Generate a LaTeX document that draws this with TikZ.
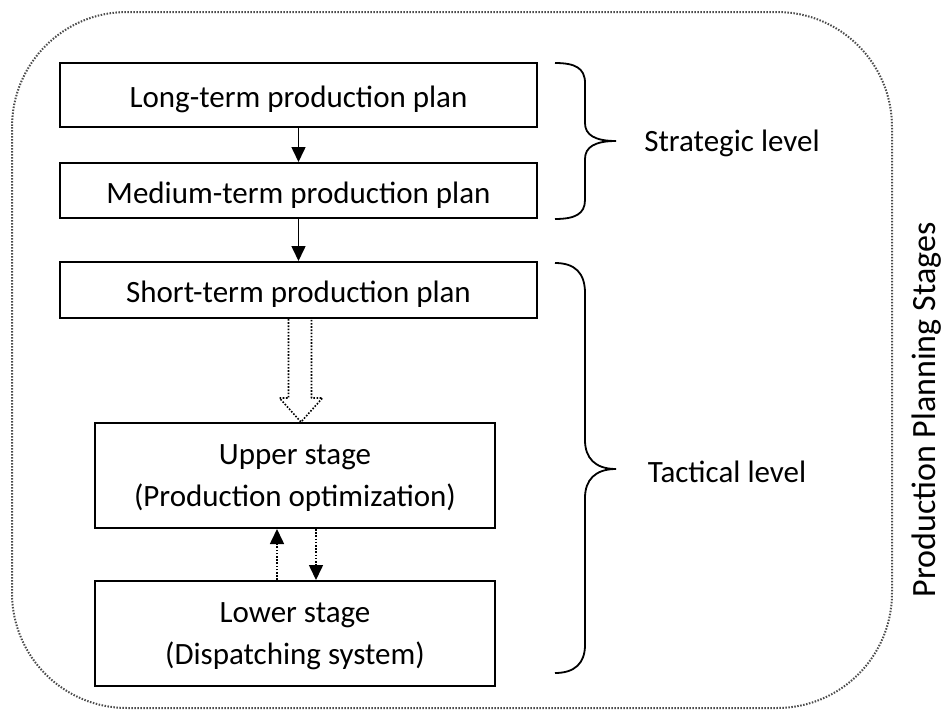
\documentclass[tikz,border=0pt]{standalone}
\usepackage{fontspec}
\setmainfont{Carlito}
\usetikzlibrary{arrows.meta,calc}
\begin{document}
\begin{tikzpicture}[x=1pt,y=-1pt,
  box/.style={draw=black,line width=2pt,inner sep=0pt,align=center,font=\fontsize{31}{42}\selectfont},
  onebox/.style={box,text height=30pt},
  twobox/.style={box,text depth=0pt},
  lbl/.style={inner sep=0pt,font=\fontsize{31}{36}\selectfont},
  solidarr/.style={line width=1.6pt,-{Triangle[length=15pt,width=14pt]}},
  dotarr/.style={line width=1.6pt,dash pattern=on 1.6pt off 1.6pt,-{Triangle[length=15pt,width=14pt]}},
  brace/.style={line width=1.8pt},
  outer/.style={line width=2pt,draw=black!70,dash pattern=on 1.5pt off 1.5pt}]
\useasboundingbox (0,0) rectangle (943,715);
\draw[outer,rounded corners=115pt] (12,12) rectangle (892,708);

\node[onebox,minimum width=477pt,minimum height=64pt] (b1) at (298.5,95) {Long-term production plan};
\node[onebox,minimum width=477pt,minimum height=55pt] (b2) at (298.5,190.5) {Medium-term production plan};
\node[onebox,minimum width=477pt,minimum height=56pt] (b3) at (298.5,290) {Short-term production plan};
\node[twobox,minimum width=400pt,minimum height=105pt] (b4) at (295,475.5) {Upper stage\\(Production optimization)};
\node[twobox,minimum width=400pt,minimum height=105pt] (b5) at (295,633.5) {Lower stage\\(Dispatching system)};

\draw[solidarr] (b1.south) -- (b2.north);
\draw[solidarr] (b2.south) -- (b3.north);

% hollow dotted arrow
\draw[line width=1.6pt,dash pattern=on 1.6pt off 1.6pt,line join=round]
  ($(b3.south)+(-10,0)$) -- ($(b3.south)+(-10,79)$) -- ($(b3.south)+(-19,79)$)
  -- ($(b4.north)+(6,0)$) -- ($(b3.south)+(24,79)$) -- ($(b3.south)+(13,79)$)
  -- ($(b3.south)+(13,0)$);

\draw[dotarr] ([xshift=-18pt]b5.north) -- ([xshift=-18pt]b4.south);
\draw[dotarr] ([xshift=21pt]b4.south) -- ([xshift=21pt]b5.north);

% braces
\draw[brace] (555,63) .. controls (575,63) and (585,68) .. (585,83) -- (585,123)
  .. controls (585,135) and (595,141) .. (616,141)
  .. controls (595,141) and (585,147) .. (585,159) -- (585,200)
  .. controls (585,214) and (575,219) .. (555,219);
\draw[brace] (555,263) .. controls (575,263) and (585,273) .. (585,293) -- (585,440)
  .. controls (585,458) and (595,469) .. (616,469)
  .. controls (595,469) and (585,480) .. (585,498) -- (585,645)
  .. controls (585,663) and (575,673) .. (555,673);

\node[lbl] (strat) at (732,143) {Strategic level};
\node[lbl] (tact) at (727,472) {Tactical level};
\node[lbl,rotate=90,font=\fontsize{34}{38}\selectfont] (pps) at (927,410) {Production Planning Stages};
\end{tikzpicture}
\end{document}
